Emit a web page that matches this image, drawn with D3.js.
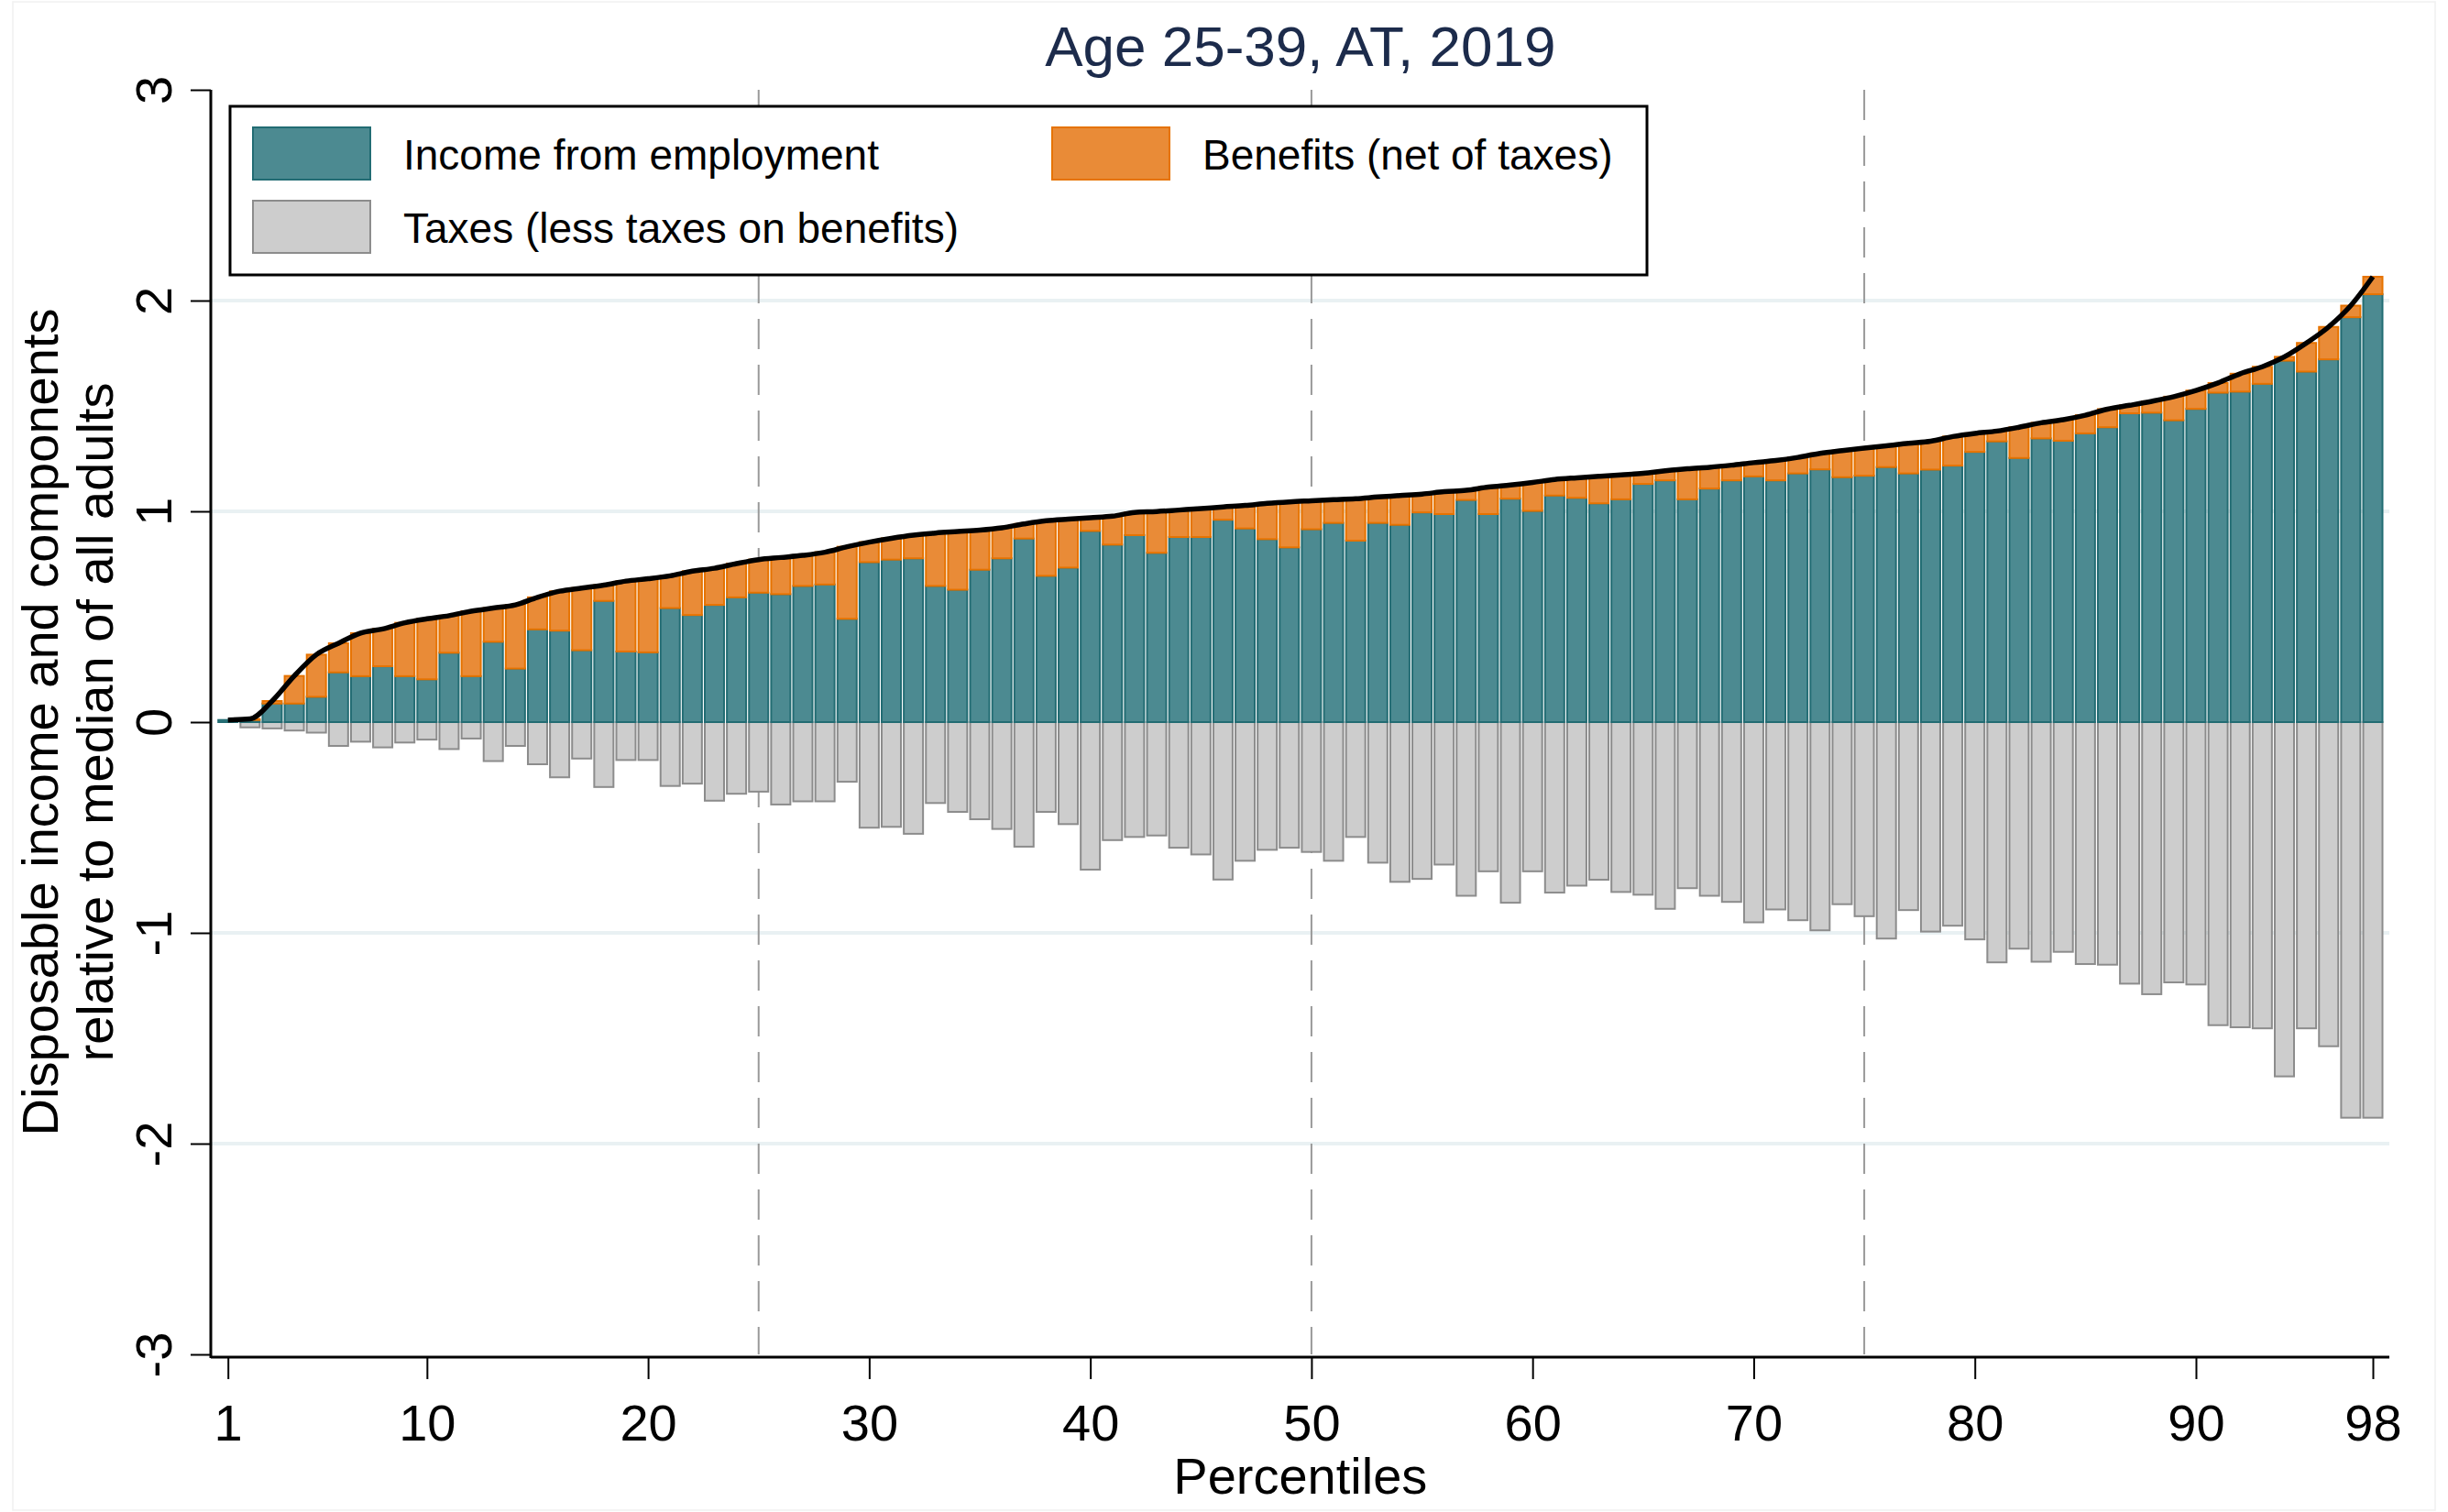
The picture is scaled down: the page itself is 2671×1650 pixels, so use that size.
<!DOCTYPE html>
<html>
<head>
<meta charset="utf-8">
<script src="https://cdn.jsdelivr.net/npm/d3@7"></script>
<style>
  body { margin: 0; background: #ffffff; }
  svg { display: block; }
  text { font-family: "Liberation Sans", Arial, Helvetica, sans-serif; }
</style>
</head>
<body>
<svg id="chart" width="2671" height="1650"></svg>
<script>
// ---------------- DATA ----------------
const chartTitle = "Age 25-39, AT, 2019";
const percentiles = d3.range(1, 99); // 1..98

const employment = [
  0.010, 0.010, 0.088, 0.088, 0.120, 0.236, 0.218, 0.265, 0.218, 0.203,
  0.329, 0.218, 0.381, 0.254, 0.440, 0.434, 0.341, 0.575, 0.335, 0.331,
  0.541, 0.508, 0.556, 0.592, 0.614, 0.607, 0.646, 0.653, 0.490, 0.759,
  0.771, 0.777, 0.646, 0.628, 0.723, 0.777, 0.871, 0.694, 0.733, 0.907,
  0.842, 0.887, 0.803, 0.878, 0.878, 0.960, 0.919, 0.868, 0.829, 0.915,
  0.945, 0.861, 0.945, 0.936, 0.995, 0.987, 1.054, 0.987, 1.060, 1.002,
  1.075, 1.064, 1.038, 1.057, 1.130, 1.147, 1.057, 1.108, 1.147, 1.166,
  1.147, 1.180, 1.199, 1.162, 1.169, 1.210, 1.180, 1.198, 1.217, 1.282,
  1.332, 1.253, 1.346, 1.335, 1.370, 1.399, 1.465, 1.468, 1.432, 1.486,
  1.563, 1.568, 1.605, 1.715, 1.663, 1.721, 1.921, 2.030
];

const benefits = [
  0.000, 0.005, 0.012, 0.131, 0.200, 0.138, 0.204, 0.177, 0.253, 0.287,
  0.176, 0.308, 0.160, 0.302, 0.152, 0.187, 0.295, 0.075, 0.334, 0.349,
  0.153, 0.208, 0.174, 0.160, 0.157, 0.174, 0.145, 0.153, 0.342, 0.095,
  0.101, 0.110, 0.251, 0.276, 0.188, 0.145, 0.069, 0.261, 0.230, 0.063,
  0.135, 0.108, 0.196, 0.128, 0.135, 0.061, 0.109, 0.170, 0.216, 0.135,
  0.110, 0.199, 0.123, 0.139, 0.087, 0.106, 0.046, 0.128, 0.065, 0.135,
  0.076, 0.095, 0.128, 0.116, 0.050, 0.045, 0.145, 0.101, 0.072, 0.065,
  0.094, 0.076, 0.076, 0.126, 0.131, 0.101, 0.143, 0.135, 0.138, 0.088,
  0.049, 0.146, 0.074, 0.100, 0.086, 0.086, 0.038, 0.054, 0.112, 0.087,
  0.046, 0.085, 0.081, 0.018, 0.136, 0.154, 0.055, 0.083
];

const taxes = [
  0.000, -0.025, -0.030, -0.040, -0.050, -0.113, -0.093, -0.120, -0.097, -0.083,
  -0.128, -0.078, -0.185, -0.113, -0.200, -0.262, -0.173, -0.308, -0.180, -0.180,
  -0.303, -0.292, -0.373, -0.340, -0.330, -0.391, -0.376, -0.376, -0.283, -0.501,
  -0.497, -0.530, -0.384, -0.426, -0.461, -0.507, -0.591, -0.426, -0.484, -0.700,
  -0.560, -0.545, -0.538, -0.596, -0.628, -0.747, -0.658, -0.606, -0.596, -0.616,
  -0.658, -0.545, -0.667, -0.758, -0.744, -0.676, -0.824, -0.708, -0.857, -0.708,
  -0.809, -0.776, -0.748, -0.806, -0.819, -0.886, -0.788, -0.824, -0.853, -0.950,
  -0.889, -0.940, -0.988, -0.864, -0.921, -1.027, -0.892, -0.994, -0.966, -1.031,
  -1.140, -1.075, -1.137, -1.090, -1.148, -1.151, -1.241, -1.291, -1.235, -1.245,
  -1.438, -1.448, -1.453, -1.681, -1.453, -1.538, -1.877, -1.877
];

const xTickValues = [1, 10, 20, 30, 40, 50, 60, 70, 80, 90, 98];
const yTickValues = [-3, -2, -1, 0, 1, 2, 3];
const gridValues = [-2, -1, 1, 2];
const referencePercentiles = [25, 50, 75];
const xAxisTitle = "Percentiles";
const yAxisTitleLines = ["Disposable income and components", "relative to median of all adults"];
const legendLabels = ["Income from employment", "Benefits (net of taxes)", "Taxes (less taxes on benefits)"];

// ---------------- STYLE ----------------
const colors = {
  empFill: "#4c8a91", empStroke: "#226c73",
  benFill: "#e98b37", benStroke: "#e67300",
  taxFill: "#cdcdcd", taxStroke: "#8c8c8c",
  grid: "#e9f1f3", ref: "#9a9a9a", title: "#1c2b4b"
};

const rows = percentiles.map((p, i) => ({
  p, emp: employment[i], ben: benefits[i], tax: taxes[i],
  total: employment[i] + benefits[i]
}));

// ---------------- SCALES ----------------
const svg = d3.select("#chart");
const plotLeft = 230, plotRight = 2607, plotTop = 98, plotBottom = 1478;
const pxPerPct = (2589 - 248.7) / 97;
const x = d3.scaleLinear()
  .domain([1 - (248.7 - plotLeft) / pxPerPct, 98 + (plotRight - 2589) / pxPerPct])
  .range([plotLeft, plotRight]);
const y = d3.scaleLinear().domain([-3, 3]).range([plotBottom, plotTop]);
const barW = 21;
const plainFormat = d => String(d); // hyphen-minus, as in the reference

// faint outer frame
svg.append("rect").attr("x", 14).attr("y", 2).attr("width", 2671 - 28).attr("height", 1650 - 4)
  .attr("fill", "none").attr("stroke", "#f1f1f1").attr("stroke-width", 1.5);

// gridlines
svg.append("g").selectAll("line").data(gridValues).join("line")
  .attr("x1", plotLeft).attr("x2", plotRight)
  .attr("y1", d => y(d)).attr("y2", d => y(d))
  .attr("stroke", colors.grid).attr("stroke-width", 4);

// reference dashed lines
svg.append("g").selectAll("line").data(referencePercentiles).join("line")
  .attr("x1", d => x(d)).attr("x2", d => x(d))
  .attr("y1", plotTop).attr("y2", plotBottom)
  .attr("stroke", colors.ref).attr("stroke-width", 2)
  .attr("stroke-dasharray", "33,17");

// bars
const bars = svg.append("g");
bars.selectAll("rect.tax").data(rows.filter(d => d.tax < 0)).join("rect").attr("class", "tax")
  .attr("x", d => x(d.p) - barW / 2).attr("width", barW)
  .attr("y", y(0)).attr("height", d => y(d.tax) - y(0))
  .attr("fill", colors.taxFill).attr("stroke", colors.taxStroke).attr("stroke-width", 2);
bars.selectAll("rect.emp").data(rows).join("rect").attr("class", "emp")
  .attr("x", d => x(d.p) - barW / 2).attr("width", barW)
  .attr("y", d => y(d.emp)).attr("height", d => y(0) - y(d.emp))
  .attr("fill", colors.empFill).attr("stroke", colors.empStroke).attr("stroke-width", 2);
bars.selectAll("rect.ben").data(rows.filter(d => d.ben > 0)).join("rect").attr("class", "ben")
  .attr("x", d => x(d.p) - barW / 2).attr("width", barW)
  .attr("y", d => y(d.total)).attr("height", d => y(d.emp) - y(d.total))
  .attr("fill", colors.benFill).attr("stroke", colors.benStroke).attr("stroke-width", 2);

// disposable income line
svg.append("path").datum(rows)
  .attr("d", d3.line().x(d => x(d.p)).y(d => y(d.total)).curve(d3.curveMonotoneX))
  .attr("fill", "none").attr("stroke", "#000").attr("stroke-width", 5.5)
  .attr("stroke-linejoin", "round");

// ---------------- AXES ----------------
const xAxis = svg.append("g").attr("transform", `translate(0,${plotBottom + 3})`)
  .call(d3.axisBottom(x).tickValues(xTickValues).tickSize(24).tickPadding(10).tickFormat(plainFormat));
xAxis.select(".domain").attr("d", `M${plotLeft},0H${plotRight}`).attr("stroke", "#000").attr("stroke-width", 3);
xAxis.selectAll(".tick line").attr("stroke", "#000").attr("stroke-width", 2);
xAxis.selectAll(".tick text").attr("font-size", 56).attr("fill", "#000")
  .attr("dy", null).attr("y", 1572 - plotBottom - 3);

const yAxis = svg.append("g").attr("transform", `translate(${plotLeft},0)`)
  .call(d3.axisLeft(y).tickValues(yTickValues).tickSize(22).tickFormat(plainFormat));
yAxis.select(".domain").attr("d", `M0,${plotTop}V${plotBottom + 4}`).attr("stroke", "#000").attr("stroke-width", 3);
yAxis.selectAll(".tick line").attr("stroke", "#000").attr("stroke-width", 2);
yAxis.selectAll(".tick text")
  .attr("font-size", 56).attr("fill", "#000")
  .attr("x", null).attr("dy", null).attr("text-anchor", "middle")
  .attr("transform", `translate(${187 - plotLeft},0) rotate(-90)`);

// axis titles
svg.append("text").attr("x", x(49.5)).attr("y", 1630).attr("text-anchor", "middle")
  .attr("font-size", 56).attr("fill", "#000").text(xAxisTitle);

svg.append("g").selectAll("text").data(yAxisTitleLines).join("text")
  .attr("transform", (d, i) => `translate(${63 + i * 60},${y(0)}) rotate(-90)`)
  .attr("text-anchor", "middle").attr("font-size", 56).attr("fill", "#000")
  .text(d => d);

// title
svg.append("text").attr("x", x(49.5)).attr("y", 72).attr("text-anchor", "middle")
  .attr("font-size", 62).attr("fill", colors.title).text(chartTitle);

// ---------------- LEGEND ----------------
const legend = svg.append("g");
legend.append("rect").attr("x", 251).attr("y", 116).attr("width", 1546).attr("height", 184)
  .attr("fill", "#fff").attr("stroke", "#000").attr("stroke-width", 3);
const legendSpec = [
  { label: legendLabels[0], fill: colors.empFill, stroke: colors.empStroke, sx: 276, sy: 139 },
  { label: legendLabels[1], fill: colors.benFill, stroke: colors.benStroke, sx: 1148, sy: 139 },
  { label: legendLabels[2], fill: colors.taxFill, stroke: colors.taxStroke, sx: 276, sy: 219 }
];
const li = legend.selectAll("g.item").data(legendSpec).join("g").attr("class", "item");
li.append("rect").attr("x", d => d.sx).attr("y", d => d.sy).attr("width", 128).attr("height", 57)
  .attr("fill", d => d.fill).attr("stroke", d => d.stroke).attr("stroke-width", 2);
li.append("text").attr("x", d => d.sx + 164).attr("y", d => d.sy + 46)
  .attr("font-size", 46).attr("fill", "#000").text(d => d.label);
</script>
</body>
</html>
